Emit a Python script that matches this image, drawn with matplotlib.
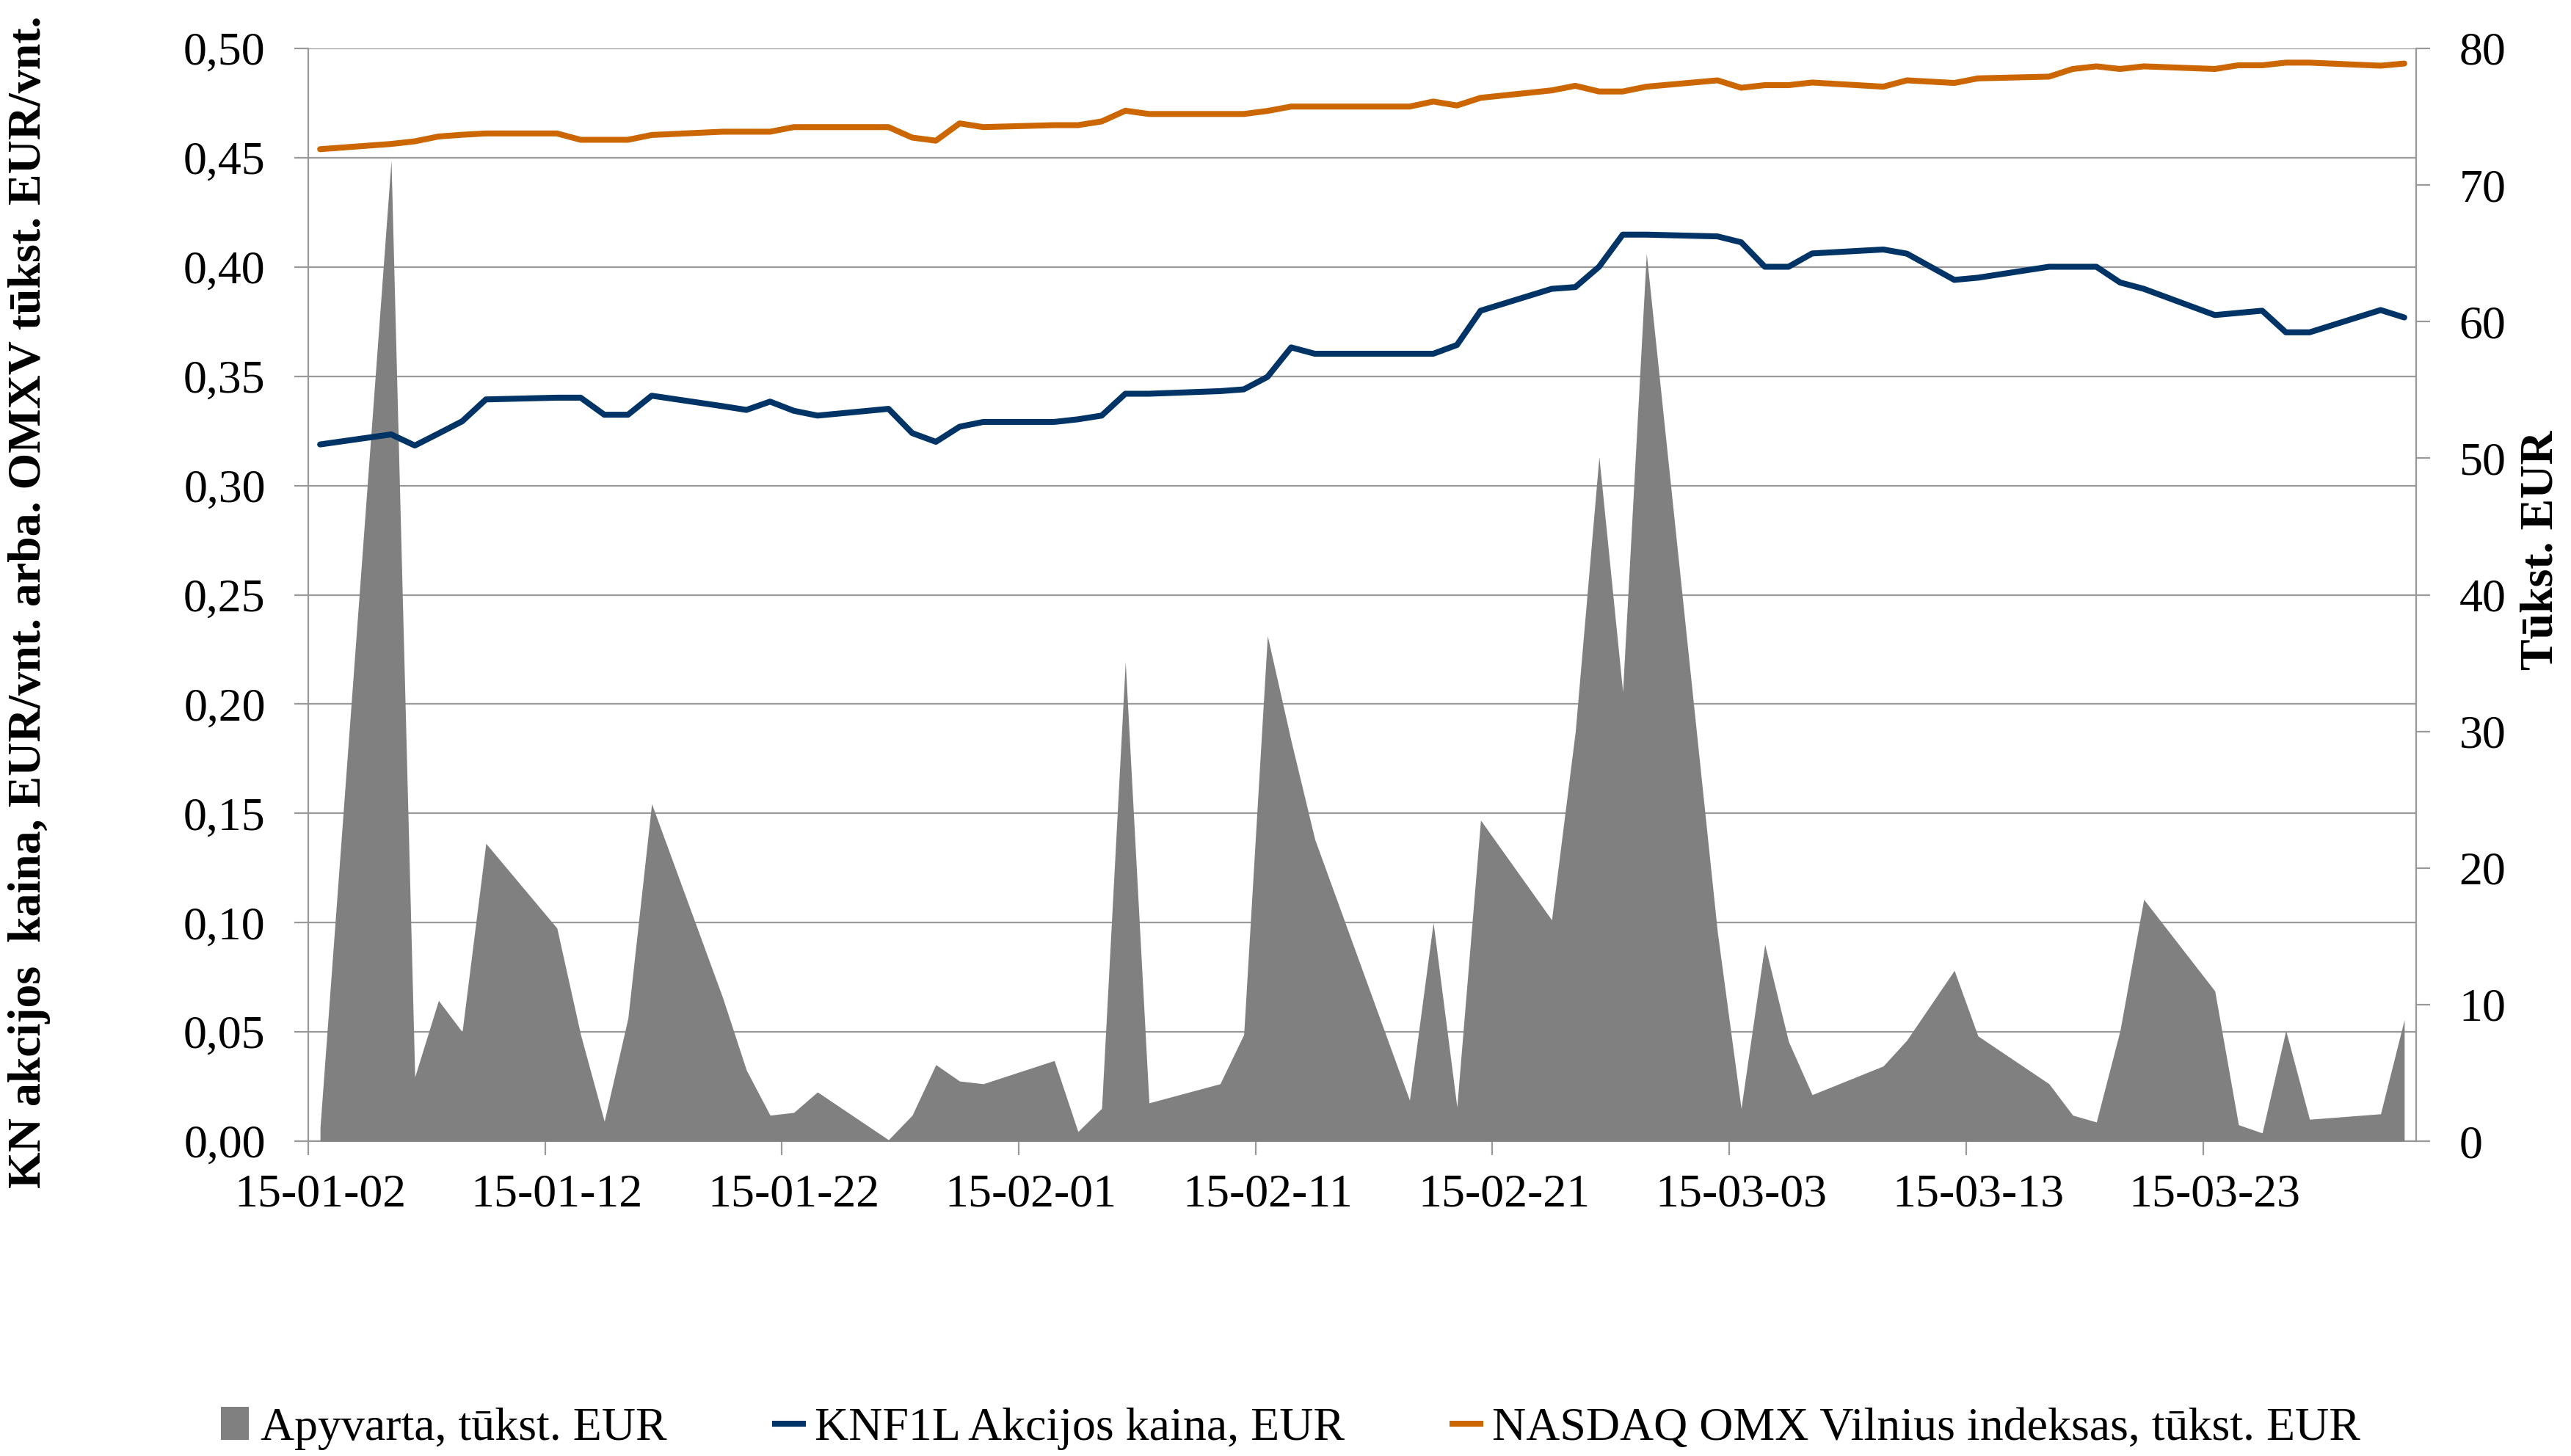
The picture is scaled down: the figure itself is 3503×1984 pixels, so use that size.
import numpy as np
import pandas as pd
import matplotlib
matplotlib.use("Agg")
import matplotlib.pyplot as plt
from matplotlib.patches import Patch
from matplotlib.lines import Line2D
from matplotlib.ticker import FixedLocator, FixedFormatter, NullFormatter, FuncFormatter

plt.rcParams["font.family"] = ["Liberation Serif", "DejaVu Serif"]

# trading days (Vilnius exchange, Jan-Mar 2015)
holidays = ["2015-02-16", "2015-03-11"]
dates = pd.bdate_range("2015-01-02", "2015-03-31", freq="C", holidays=holidays)

# turnover, thousand EUR (right axis)
turnover = [
    1.0, 71.8, 4.7, 10.3, 8.0, 21.8, 15.6, 7.8, 1.45, 9.0, 24.7,
    10.5, 5.2, 1.9, 2.1, 3.6, 0.1, 1.9, 5.6, 4.4, 4.2,
    5.9, 0.7, 2.4, 35.1, 2.8, 4.2, 7.8, 37.0, 29.3, 22.1,
    3.0, 16.0, 2.5, 23.5, 16.2, 30.0, 50.1, 32.9, 65.0,
    15.3, 2.4, 14.4, 7.3, 3.4, 5.5, 7.4, 12.5, 7.7, 4.2, 1.9,
    1.4, 8.1, 17.7, 11.0, 1.2, 0.6, 8.1, 1.6, 2.0, 8.9,
]

# KNF1L share price, EUR
price = [
    0.3188, 0.3234, 0.3183, 0.3238, 0.3294, 0.3394, 0.3402, 0.3402, 0.3324, 0.3324, 0.3411,
    0.3363, 0.3346, 0.3384, 0.3342, 0.3320, 0.3351, 0.3240, 0.3200, 0.3269, 0.3291,
    0.3291, 0.3303, 0.3320, 0.3420, 0.3420, 0.3432, 0.3440, 0.3497, 0.3632, 0.3603,
    0.3603, 0.3603, 0.3643, 0.3800, 0.3900, 0.3908, 0.4001, 0.4148, 0.4148,
    0.4140, 0.4113, 0.4001, 0.4001, 0.4062, 0.4080, 0.4061, 0.3941, 0.3951, 0.4001, 0.4001,
    0.4001, 0.3929, 0.3900, 0.3780, 0.3790, 0.3800, 0.3701, 0.3701, 0.3803, 0.3769,
]

# OMX Vilnius index, thousand
omxv = [
    0.4539, 0.4563, 0.4575, 0.4597, 0.4605, 0.4611, 0.4611, 0.4582, 0.4582, 0.4582, 0.4604,
    0.4619, 0.4619, 0.4619, 0.4640, 0.4640, 0.4640, 0.4592, 0.4578, 0.4657, 0.4640,
    0.4649, 0.4649, 0.4666, 0.4715, 0.4700, 0.4700, 0.4700, 0.4714, 0.4734, 0.4734,
    0.4734, 0.4757, 0.4739, 0.4774, 0.4808, 0.4829, 0.4803, 0.4803, 0.4825,
    0.4854, 0.4820, 0.4832, 0.4832, 0.4844, 0.4825, 0.4854, 0.4842, 0.4863, 0.4871, 0.4906,
    0.4918, 0.4906, 0.4918, 0.4906, 0.4923, 0.4923, 0.4935, 0.4935, 0.4921, 0.4931,
]

label_dates = pd.date_range("2015-01-02", periods=9, freq="10D")
x_labels = [d.strftime("%y-%m-%d") for d in label_dates]

GRAY_AREA = "#808080"
BLUE = "#003366"
ORANGE = "#CC6600"
AXIS_GRAY = "#999999"
FS = 46

x = np.asarray((dates - dates[0]).days, dtype=float)
x_lab = np.asarray((label_dates - dates[0]).days, dtype=float)
n_days = (dates[-1] - dates[0]).days

fig = plt.figure(figsize=(35.03, 19.84), dpi=100)
ax = fig.add_axes([420 / 3503, 1 - 1555 / 1984, (3292 - 420) / 3503, (1555 - 66) / 1984])
ax_area = ax.twinx()
ax_line = ax.twinx()

# left axis: ticks + gridlines (bottom layer)
ax.set_xlim(-0.5, n_days + 0.5)
ax.set_ylim(0, 0.5)
ax.set_yticks(np.arange(0, 0.501, 0.05))
ax.yaxis.set_major_formatter(FuncFormatter(lambda v, p: f"{v:.2f}".replace(".", ",")))
ax.grid(axis="y", color=AXIS_GRAY, linewidth=1.6)
ax.set_axisbelow(True)

ax.xaxis.set_major_locator(FixedLocator(x_lab - 0.5))
ax.xaxis.set_major_formatter(NullFormatter())
ax.xaxis.set_minor_locator(FixedLocator(x_lab))
ax.xaxis.set_minor_formatter(FixedFormatter(x_labels))
ax.tick_params(axis="x", which="major", length=14, width=1.6, color=AXIS_GRAY, direction="out")
ax.tick_params(axis="x", which="minor", length=0, pad=32, labelsize=FS)
ax.tick_params(axis="y", length=14, width=1.6, color=AXIS_GRAY, direction="out", pad=28, labelsize=FS)
for side in ["top", "right"]:
    ax.spines[side].set_visible(False)
for side in ["left", "bottom"]:
    ax.spines[side].set_color(AXIS_GRAY)
    ax.spines[side].set_linewidth(1.6)

# right axis: turnover area
ax_area.fill_between(x, turnover, color=GRAY_AREA, linewidth=0)
ax_area.set_ylim(0, 80)
ax_area.set_yticks(np.arange(0, 81, 10))
ax_area.tick_params(axis="y", length=14, width=1.6, color=AXIS_GRAY, direction="out", pad=28, labelsize=FS)
for side in ["top", "left", "bottom"]:
    ax_area.spines[side].set_visible(False)
ax_area.spines["right"].set_color(AXIS_GRAY)
ax_area.spines["right"].set_linewidth(1.6)

# lines on top, using the left scale
ax_line.set_ylim(0, 0.5)
ax_line.plot(x, omxv, color=ORANGE, linewidth=5.8, solid_capstyle="round", solid_joinstyle="round")
ax_line.plot(x, price, color=BLUE, linewidth=5.8, solid_capstyle="round", solid_joinstyle="round")
ax_line.axis("off")

fig.text(40 / 3503, 1 - 820 / 1984, "KN akcijos  kaina, EUR/vnt. arba. OMXV tūkst. EUR/vnt.",
         rotation=90, ha="center", va="center", fontsize=FS, fontweight="bold")
fig.text(3463 / 3503, 1 - 750 / 1984, "Tūkst. EUR",
         rotation=90, ha="center", va="center", fontsize=FS, fontweight="bold")

handles = [
    Patch(facecolor=GRAY_AREA, edgecolor="none"),
    Line2D([], [], color=BLUE, linewidth=5.8),
    Line2D([], [], color=ORANGE, linewidth=5.8),
]
labels = ["Apyvarta, tūkst. EUR", "KNF1L Akcijos kaina, EUR", "NASDAQ OMX Vilnius indeksas, tūkst. EUR"]
fig.legend(handles, labels, loc="lower center", bbox_to_anchor=(0.502, 0.004), ncol=3,
           frameon=False, fontsize=FS, handlelength=0.6, handletextpad=0.25,
           columnspacing=2.3, borderpad=0, borderaxespad=0)

fig.savefig("out.png", dpi=100)
